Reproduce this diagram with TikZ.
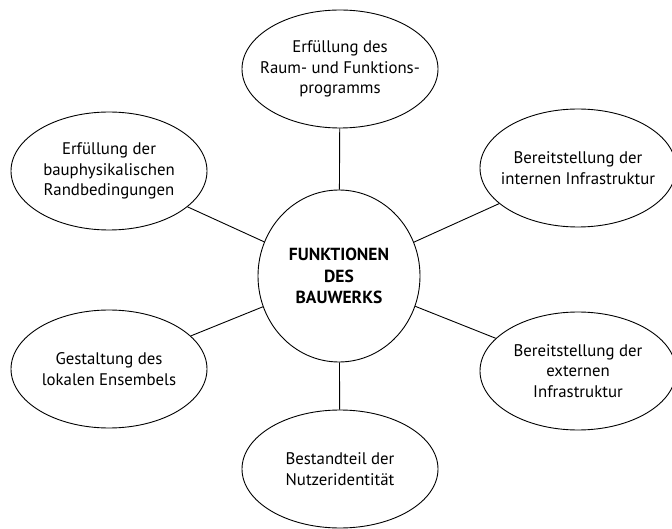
\documentclass[tikz,border=0pt]{standalone}
\usepackage{fontspec}
\setmainfont{PT Sans}
\usetikzlibrary{shapes.geometric}
\begin{document}
\begin{tikzpicture}[x=1pt, y=-1pt, font=\fontsize{16.8}{20.5}\selectfont,
    ring/.style={draw, ellipse, line width=0.9pt, inner xsep=-25pt, inner ysep=0pt,
      minimum width=196pt, minimum height=118pt, align=center},
    kern/.style={ring, minimum width=162pt, minimum height=172pt,
      font=\fontsize{17.5}{21.5}\selectfont\bfseries},
    speiche/.style={line width=0.9pt}]
    \useasboundingbox (0,0) rectangle (672,529);
    \node[kern] (fkt) at (339,276) {FUNKTIONEN\\DES\\BAUWERKS};
    \node[ring] (raum)   at (340,69)  {Erfüllung des\\Raum- und Funktions-\\programms};
    \node[ring] (bau)    at (109,171) {Erfüllung der\\bauphysikalischen\\Randbedingungen};
    \node[ring] (intern) at (578,168) {Bereitstellung der\\internen Infrastruktur};
    \node[ring] (ens)    at (109,369) {Gestaltung des\\lokalen Ensembels};
    \node[ring] (extern) at (578,371) {Bereitstellung der\\externen\\Infrastruktur};
    \node[ring] (nutzer) at (340,469) {Bestandteil der\\Nutzeridentität};
    \foreach \n in {raum,bau,intern,ens,extern,nutzer}
      \draw[speiche] (fkt) -- (\n);
\end{tikzpicture}
\end{document}
